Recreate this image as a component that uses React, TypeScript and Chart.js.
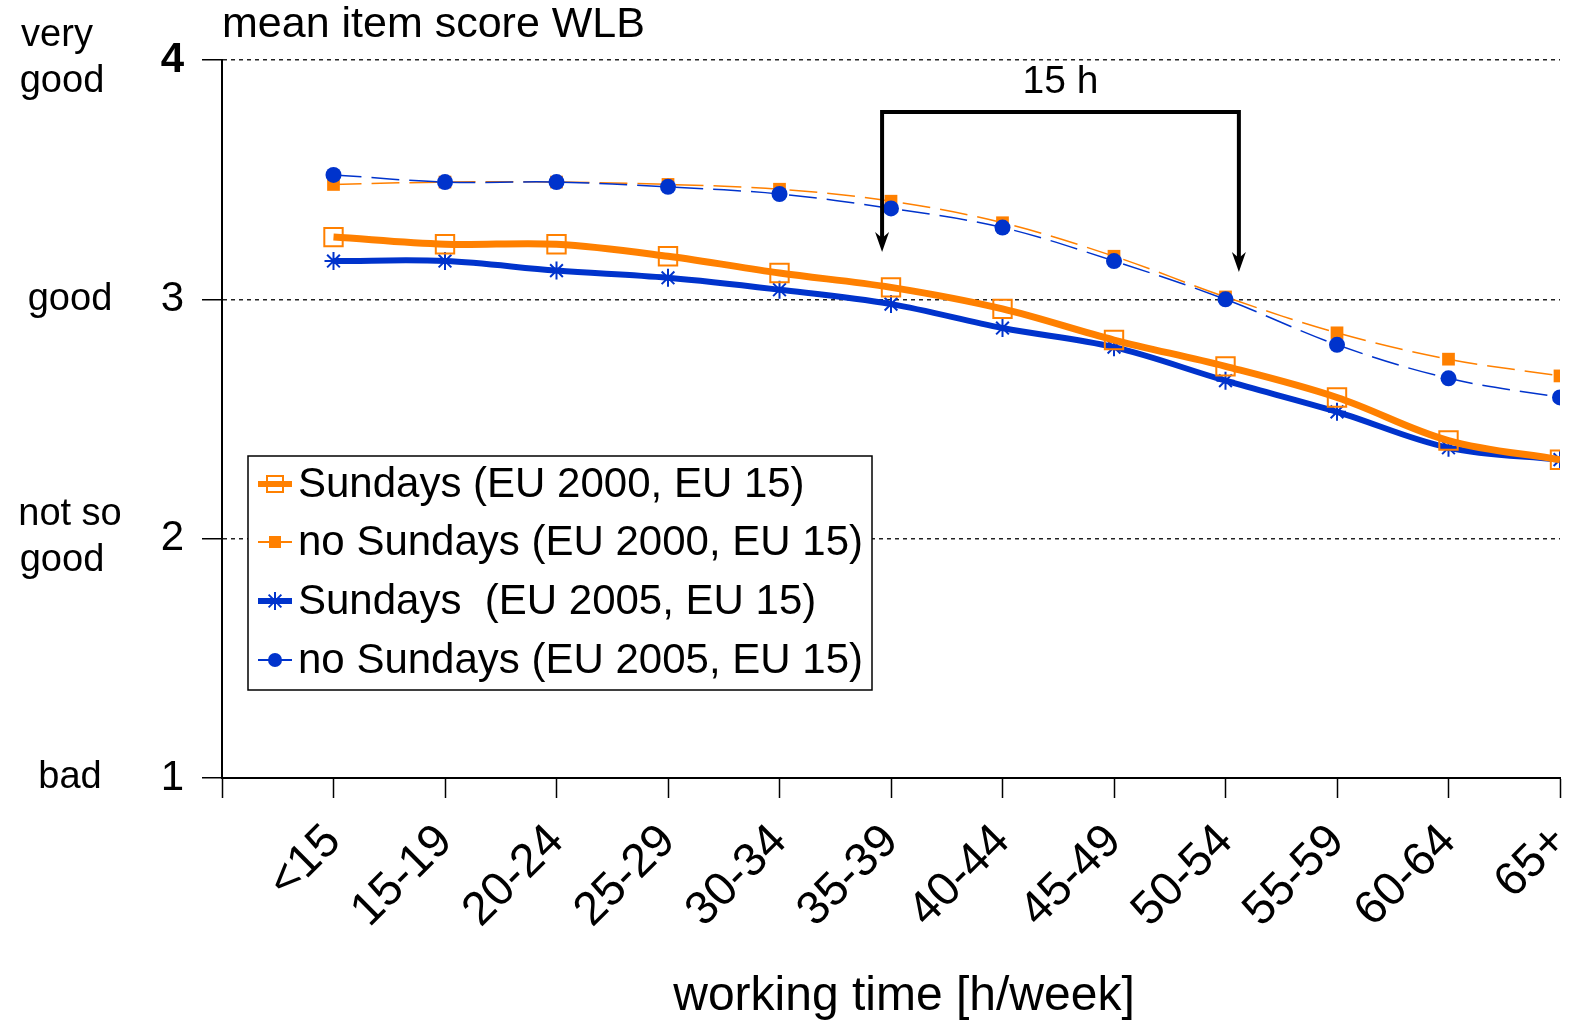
import React, { useEffect, useRef } from "react";
import { Chart, registerables } from "chart.js";

Chart.register(...registerables);

const categories = ["<15", "15-19", "20-24", "25-29", "30-34", "35-39", "40-44", "45-49", "50-54", "55-59", "60-64", "65+"];
const sundays2000 = [3.26, 3.23, 3.23, 3.18, 3.11, 3.05, 2.96, 2.83, 2.72, 2.59, 2.41, 2.33];
const noSundays2000 = [3.48, 3.49, 3.49, 3.48, 3.46, 3.41, 3.32, 3.18, 3.01, 2.86, 2.75, 2.68];
const sundays2005 = [3.16, 3.16, 3.12, 3.09, 3.04, 2.98, 2.88, 2.80, 2.66, 2.53, 2.38, 2.33];
const noSundays2005 = [3.52, 3.49, 3.49, 3.47, 3.44, 3.38, 3.30, 3.16, 3.00, 2.81, 2.67, 2.59];
const yTicks = [1, 2, 3, 4];
const ratingLabels = [["bad"], ["not so", "good"], ["good"], ["very", "good"]];
const legendLabels = ["Sundays (EU 2000, EU 15)", "no Sundays (EU 2000, EU 15)", "Sundays  (EU 2005, EU 15)", "no Sundays (EU 2005, EU 15)"];
const bracketFrom = 5.92;
const bracketTo = 9.12;
const bracketTop = 3.783;
const arrowTipLeft = 3.198;
const arrowTipRight = 3.114;
const bracketLabel = "15 h";

const ORANGE = "#FF8000";
const BLUE = "#0033CC";
const FONT = "'Liberation Sans', Arial, sans-serif";

const toXY = (arr: number[]) => arr.map((y, i) => ({ x: i + 1, y }));

function drawMarker(ctx: CanvasRenderingContext2D, kind: string, x: number, y: number) {
  ctx.save();
  if (kind === "openSquare") {
    ctx.strokeStyle = ORANGE;
    ctx.lineWidth = 2;
    ctx.strokeRect(x - 8, y - 8, 16, 16);
  } else if (kind === "square") {
    ctx.fillStyle = ORANGE;
    ctx.fillRect(x - 6, y - 6, 12, 12);
  } else if (kind === "star") {
    ctx.strokeStyle = BLUE;
    ctx.lineWidth = 2;
    ctx.beginPath();
    for (let k = 0; k < 4; k++) {
      const a = (k * Math.PI) / 4;
      ctx.moveTo(x - 9 * Math.cos(a), y - 9 * Math.sin(a));
      ctx.lineTo(x + 9 * Math.cos(a), y + 9 * Math.sin(a));
    }
    ctx.stroke();
  } else if (kind === "circle") {
    ctx.fillStyle = BLUE;
    ctx.beginPath();
    ctx.arc(x, y, 7, 0, Math.PI * 2);
    ctx.fill();
  }
  ctx.restore();
}

const extrasPlugin = {
  id: "extras",
  afterDraw(chart: any) {
    const ctx: CanvasRenderingContext2D = chart.ctx;
    const xs = chart.scales.x;
    const ys = chart.scales.y;
    ctx.save();
    ctx.fillStyle = "#000";
    ctx.textBaseline = "middle";

    // rating labels
    ctx.font = `38px ${FONT}`;
    ctx.textAlign = "center";
    yTicks.forEach((t, i) => {
      const lines = ratingLabels[i];
      const py = ys.getPixelForValue(t);
      if (lines.length === 1) {
        ctx.fillText(lines[0], 70, py);
      } else {
        ctx.fillText(lines[0], i === 3 ? 57 : 70, py - 24);
        ctx.fillText(lines[1], 62, py + 22);
      }
    });

    // y title
    ctx.font = `43px ${FONT}`;
    ctx.textAlign = "left";
    ctx.fillText("mean item score WLB", 222, 25);

    // x title
    ctx.font = `48px ${FONT}`;
    ctx.textAlign = "center";
    ctx.fillText("working time [h/week]", 904, 997);

    // bracket
    const xl = xs.getPixelForValue(bracketFrom);
    const xr = xs.getPixelForValue(bracketTo);
    const yt = ys.getPixelForValue(bracketTop);
    const yl = ys.getPixelForValue(arrowTipLeft);
    const yr = ys.getPixelForValue(arrowTipRight);
    ctx.strokeStyle = "#000";
    ctx.lineWidth = 4;
    ctx.beginPath();
    ctx.moveTo(xl, yl - 14);
    ctx.lineTo(xl, yt);
    ctx.lineTo(xr, yt);
    ctx.lineTo(xr, yr - 14);
    ctx.stroke();
    ctx.fillStyle = "#000";
    [[xl, yl], [xr, yr]].forEach(([ax, ay]) => {
      ctx.beginPath();
      ctx.moveTo(ax, ay);
      ctx.lineTo(ax - 7, ay - 20);
      ctx.lineTo(ax, ay - 14);
      ctx.lineTo(ax + 7, ay - 20);
      ctx.closePath();
      ctx.fill();
    });
    ctx.font = `39px ${FONT}`;
    ctx.textAlign = "center";
    ctx.fillText(bracketLabel, (xl + xr) / 2, 82);

    // legend
    const lx = 248, ly = 456, lw = 624, lh = 234;
    ctx.fillStyle = "#fff";
    ctx.fillRect(lx, ly, lw, lh);
    ctx.strokeStyle = "#000";
    ctx.lineWidth = 1.5;
    ctx.strokeRect(lx, ly, lw, lh);
    const rows = [484, 542, 601, 660];
    const kinds = ["openSquare", "square", "star", "circle"];
    const colors = [ORANGE, ORANGE, BLUE, BLUE];
    const widths = [6, 2, 6, 2];
    rows.forEach((ry, i) => {
      ctx.strokeStyle = colors[i];
      ctx.lineWidth = widths[i];
      ctx.beginPath();
      ctx.moveTo(258, ry);
      ctx.lineTo(292, ry);
      ctx.stroke();
      drawMarker(ctx, kinds[i], 275, ry);
      ctx.fillStyle = "#000";
      ctx.font = `42px ${FONT}`;
      ctx.textAlign = "left";
      ctx.fillText(legendLabels[i], 298, ry + 1);
    });
    ctx.restore();
  },
};

export default function App() {
  const ref = useRef<HTMLCanvasElement | null>(null);
  useEffect(() => {
    if (!ref.current) return;
    const dashed = [28, 10];
    const chart = new Chart(ref.current, {
      type: "line",
      data: {
        datasets: [
          {
            label: legendLabels[0],
            data: toXY(sundays2000),
            borderColor: ORANGE,
            borderWidth: 7,
            backgroundColor: "rgba(0,0,0,0)",
            pointStyle: "rect",
            pointRadius: 13,
            pointBorderWidth: 2,
            pointBorderColor: ORANGE,
            pointBackgroundColor: "rgba(0,0,0,0)",
            tension: 0.35,
            order: 0,
          },
          {
            label: legendLabels[1],
            data: toXY(noSundays2000),
            borderColor: ORANGE,
            borderWidth: 1.5,
            borderDash: dashed,
            pointStyle: "rect",
            pointRadius: 9,
            pointBorderWidth: 0,
            pointBackgroundColor: ORANGE,
            tension: 0.35,
            order: 2,
          },
          {
            label: legendLabels[2],
            data: toXY(sundays2005),
            borderColor: BLUE,
            borderWidth: 6,
            pointStyle: "star",
            pointRadius: 9,
            pointBorderWidth: 2,
            pointBorderColor: BLUE,
            tension: 0.35,
            order: 3,
          },
          {
            label: legendLabels[3],
            data: toXY(noSundays2005),
            borderColor: BLUE,
            borderWidth: 1.5,
            borderDash: dashed,
            pointStyle: "circle",
            pointRadius: 8,
            pointBorderWidth: 0,
            pointBackgroundColor: BLUE,
            tension: 0.35,
            order: 1,
          },
        ],
      },
      options: {
        responsive: false,
        animation: false,
        layout: { autoPadding: false, padding: { top: 60, right: 9, left: 0, bottom: 0 } },
        plugins: { legend: { display: false }, tooltip: { enabled: false }, title: { display: false } },
        scales: {
          x: {
            type: "linear",
            min: 0,
            max: 12,
            afterFit: (s: any) => { s.height = 245; s.paddingLeft = 0; s.paddingRight = 0; },
            afterBuildTicks: (s: any) => { s.ticks = Array.from({ length: 13 }, (_, i) => ({ value: i })); },
            ticks: {
              autoSkip: false,
              minRotation: 45,
              maxRotation: 45,
              color: "#000",
              font: { family: FONT, size: 47 },
              padding: 16,
              callback: (v: any) => (v >= 1 && v <= 12 ? categories[v - 1] : ""),
            },
            grid: { display: true, drawOnChartArea: false, drawTicks: true, tickLength: 20, tickColor: "#000", tickWidth: 1.5, color: "#000" },
            border: { display: true, color: "#000", width: 2 },
          },
          y: {
            min: 1,
            max: 4,
            afterFit: (s: any) => { s.width = 222; s.paddingTop = 0; s.paddingBottom = 0; },
            afterBuildTicks: (s: any) => { s.ticks = yTicks.map((v) => ({ value: v })); },
            ticks: {
              color: "#000",
              font: (c: any) => ({ family: FONT, size: 42, weight: c.tick && c.tick.value === 4 ? "bold" : "normal" }),
              padding: 18,
            },
            grid: {
              display: true,
              drawOnChartArea: true,
              drawTicks: true,
              tickLength: 20,
              tickColor: "#000",
              tickWidth: 1.5,
              color: (c: any) => (c.tick && c.tick.value === 1 ? "rgba(0,0,0,0)" : "#222"),
              lineWidth: 1.5,
            },
            border: { display: true, color: "#000", width: 2, dash: [4, 4] },
          },
        },
      },
      plugins: [extrasPlugin],
    } as any);
    return () => chart.destroy();
  }, []);
  return (
    <div style={{ position: "absolute", left: 0, top: 0, width: 1569, height: 1023, background: "#fff" }}>
      <canvas ref={ref} width={1569} height={1023} style={{ display: "block" }} />
    </div>
  );
}
